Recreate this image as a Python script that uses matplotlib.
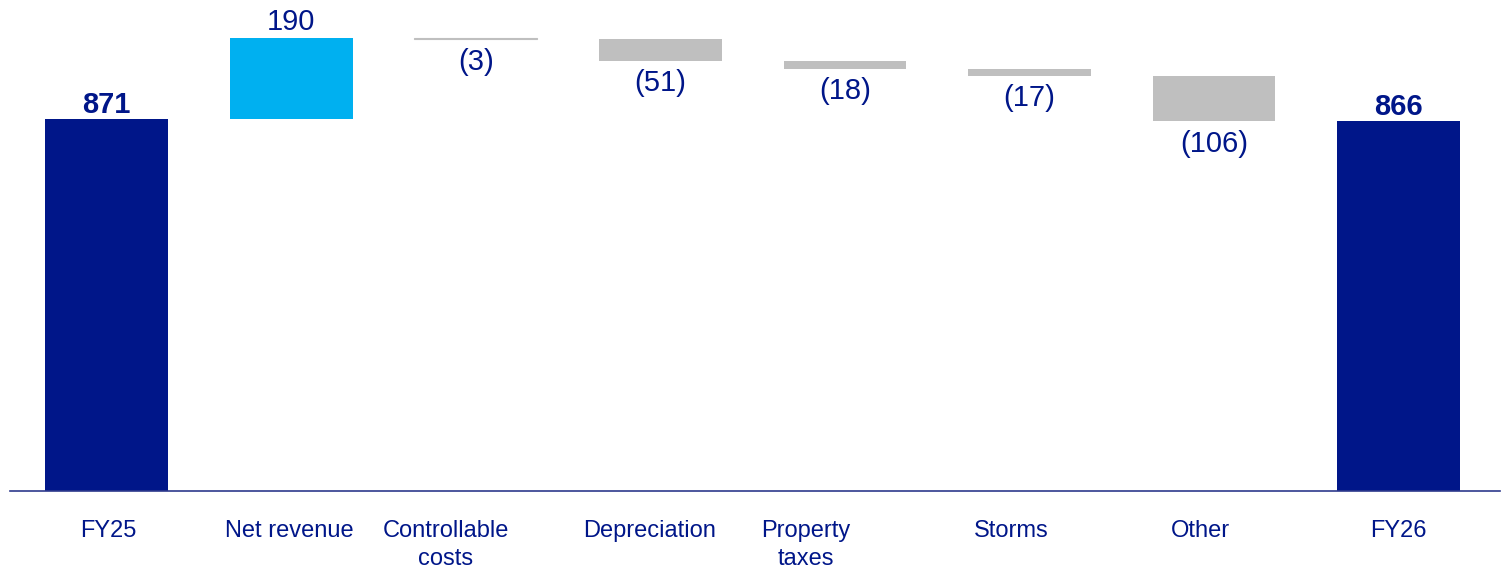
import matplotlib
matplotlib.use('Agg')
import matplotlib.pyplot as plt
import numpy as np

plt.rcParams['font.family'] = ['Liberation Sans', 'DejaVu Sans']

# Dados do waterfall
categorias = ['FY25', 'Net revenue', 'Controllable\ncosts', 'Depreciation',
              'Property\ntaxes', 'Storms', 'Other', 'FY26']
inicio = 871
variacoes = [190, -3, -51, -18, -17, -106]
fim = 866

navy = '#001689'
azul = '#00B0F0'
cinza = '#BFBFBF'

# deslocamento dos rótulos do eixo (o original não os centra nas barras)
desloc_rotulos = [0.01, -0.008, -0.163, -0.056, -0.211, -0.10, -0.076, 0.0]

fig = plt.figure(figsize=(15.06, 5.68), dpi=100)
ax = fig.add_axes([10 / 1506, 77 / 568, 1490 / 1506, 491 / 568])

x = np.arange(len(categorias))
largura = 0.665

# Barras de total
ax.bar(x[0], inicio, width=largura, color=navy)
ax.bar(x[-1], fim, width=largura, color=navy)
ax.annotate(f'{inicio}', (x[0], inicio), xytext=(0, 0), textcoords='offset points',
            ha='center', va='bottom', fontsize=21, fontweight='bold', color=navy)
ax.annotate(f'{fim}', (x[-1], fim), xytext=(0, 0), textcoords='offset points',
            ha='center', va='bottom', fontsize=21, fontweight='bold', color=navy)

# Barras de variação
acumulado = inicio
for i, v in enumerate(variacoes, start=1):
    if v >= 0:
        ax.bar(x[i], v, bottom=acumulado, width=largura, color=azul)
        ax.annotate(f'{v}', (x[i], acumulado + v), xytext=(0, 1.5),
                    textcoords='offset points', ha='center', va='bottom',
                    fontsize=21, color=navy)
    else:
        ax.bar(x[i], -v, bottom=acumulado + v, width=largura, color=cinza,
               linewidth=0.8 if abs(v) < 5 else 0, edgecolor=cinza)
        ax.annotate(f'({-v})', (x[i], acumulado + v), xytext=(0, -6),
                    textcoords='offset points', ha='center', va='top',
                    fontsize=21, color=navy)
    acumulado += v

ax.set_xlim(-0.523, 7.549)
ax.set_ylim(0, 1150)
ax.set_xticks(x + np.array(desloc_rotulos))
ax.set_xticklabels(categorias, fontsize=17, color=navy, linespacing=1.35)
ax.tick_params(axis='x', length=0, pad=21)
ax.set_yticks([])
for lado in ['top', 'right', 'left']:
    ax.spines[lado].set_visible(False)
ax.spines['bottom'].set_color('#2E3A8C')
ax.spines['bottom'].set_linewidth(1.2)

plt.savefig('out.png', dpi=100)
